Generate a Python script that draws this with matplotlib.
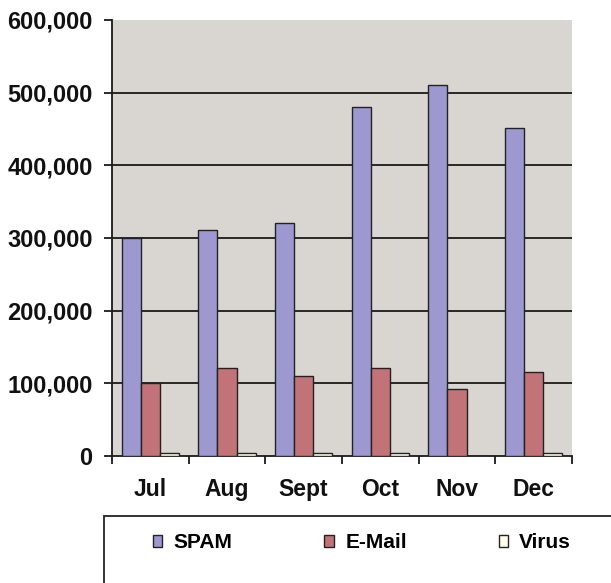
import matplotlib
matplotlib.use("Agg")
import matplotlib.pyplot as plt
import numpy as np
from matplotlib.patches import Rectangle
from matplotlib.ticker import FuncFormatter, FixedLocator

months = ["Jul", "Aug", "Sept", "Oct", "Nov", "Dec"]
spam = [300000, 311000, 321000, 480000, 510000, 452000]
email = [100000, 121000, 110000, 121000, 92000, 115500]
virus = [4000, 4000, 4000, 4000, 0, 4000]
series_names = ["SPAM", "E-Mail", "Virus"]
y_ticks = [0, 100000, 200000, 300000, 400000, 500000, 600000]

plt.rcParams['font.family'] = ['Liberation Sans', 'DejaVu Sans']
plt.rcParams['font.weight'] = 'bold'

fig = plt.figure(figsize=(6.11, 5.83), dpi=100)
W, H = 611, 583
ax = fig.add_axes([112 / W, 1 - 456 / H, (572 - 112) / W, (456 - 20) / H])
ax.set_facecolor("#D9D5D0")

x = np.arange(len(months))
bw = 0.25
colors = ["#9D99D0", "#C27378", "#FFFFE8"]
handles = []
for i, (vals, c, name) in enumerate(zip([spam, email, virus], colors, series_names)):
    b = ax.bar(x + (i - 1) * bw, vals, width=bw, color=c, edgecolor="#222222",
               linewidth=1.0, label=name, zorder=3)
    handles.append(b)

ax.set_xlim(-0.5, len(months) - 0.5)
ax.set_ylim(0, 600000)
ax.yaxis.set_major_locator(FixedLocator(y_ticks))
ax.yaxis.set_major_formatter(FuncFormatter(lambda v, p: f"{int(v):,}"))
for v in y_ticks[1:-1]:
    ax.axhline(v, color="#1a1a1a", linewidth=1.3, zorder=2)

ax.set_xticks(x)
ax.set_xticklabels(months)
ax.set_xticks(np.arange(-0.5, len(months)), minor=True)
ax.tick_params(axis="x", which="major", length=0, pad=16, labelsize=16.5)
ax.tick_params(axis="x", which="minor", length=6, width=1.3, direction="out", color="#1a1a1a")
ax.tick_params(axis="y", which="major", length=6, width=1.3, direction="out", pad=8,
               labelsize=17, color="#1a1a1a")
for lbl in ax.get_xticklabels() + ax.get_yticklabels():
    lbl.set_fontweight("bold")
    lbl.set_color("#111111")

for s in ["top", "right"]:
    ax.spines[s].set_visible(False)
for s in ["left", "bottom"]:
    ax.spines[s].set_linewidth(1.3)
    ax.spines[s].set_color("#1a1a1a")

# legend box
rect = Rectangle((104 / W, -0.05), 1.2, 0.05 + (1 - 516 / H), transform=fig.transFigure,
                 facecolor="white", edgecolor="#222222", linewidth=1.3, clip_on=False)
fig.patches.append(rect)

leg = fig.legend(handles=handles, labels=series_names, loc="center left",
                 bbox_to_anchor=(153 / W, 1 - 543 / H), ncol=3, frameon=False,
                 prop={"weight": "bold", "size": 15}, handlelength=0.45, handleheight=0.45,
                 handletextpad=0.55, columnspacing=4.4, borderaxespad=0, borderpad=0)

fig.savefig("out.png", dpi=100)
